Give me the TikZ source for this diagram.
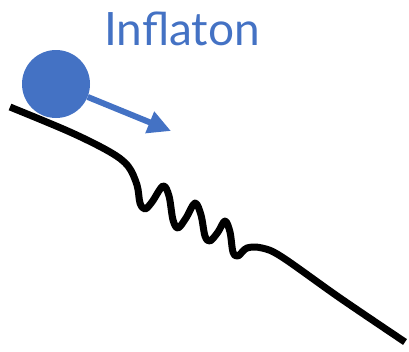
\documentclass[tikz,border=0pt]{standalone}
\usepackage{fontspec}
\setmainfont{Lato}
\usepackage{xcolor}
\usepackage{tikz}
\usetikzlibrary{arrows.meta}
\definecolor{inflblue}{HTML}{4472C4}

\begin{document}
\begin{tikzpicture}[x=1pt,y=-1pt]
  \useasboundingbox (0,0) rectangle (409,351);
  % potential with oscillations
  \draw[line width=7pt,line join=round] plot[smooth,tension=0.55] coordinates {
    (10,107) (70,132) (110,152) (128,166) (137,185) (140,203) (145,209)
    (152,202) (163,186) (169,196) (173,220) (178,228) (186,218) (195,203)
    (201,215) (205,236) (210,241) (218,232) (225,221) (230,232) (233,252)
    (238,256) (247,248) (262,248) (282,257) (340,298) (405,342)};
  % field
  \node[circle,fill=inflblue,minimum size=68pt,inner sep=0] (ball) at (56,84) {};
  \coordinate (push) at (171,131);
  \draw[inflblue,line width=6pt,-{Triangle[length=23pt,width=22pt]}] (ball) -- (push);
  \node[inflblue,font=\fontsize{46}{50}\selectfont,anchor=base,inner sep=0] (label) at (182,45) {Inflaton};
\end{tikzpicture}
\end{document}
